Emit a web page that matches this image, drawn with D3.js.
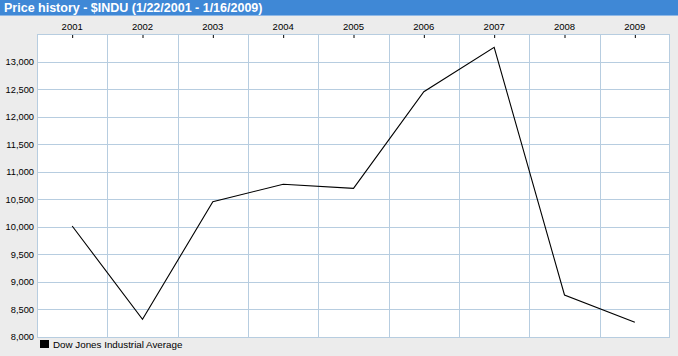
<!DOCTYPE html>
<html><head><meta charset="utf-8">
<script src="https://cdn.jsdelivr.net/npm/d3@7"></script>
<style>
html,body{margin:0;padding:0;background:#ececec;}
svg{display:block;}
</style></head>
<body>
<svg id="chart" width="678" height="356"></svg>
<script>
const title = "Price history - $INDU (1/22/2001 - 1/16/2009)";
const years = ["2001","2002","2003","2004","2005","2006","2007","2008","2009"];
const values = [10015, 8321, 10456, 10772, 10699, 12453, 13258, 8762, 8267];
const yTicks = [8000, 8500, 9000, 9500, 10000, 10500, 11000, 11500, 12000, 12500, 13000];
const seriesName = "Dow Jones Industrial Average";

const W = 678, H = 356;
const m = {left: 37, right: 670, top: 34, bottom: 337};
const font = "Liberation Sans, Arial, sans-serif";
const svg = d3.select("#chart");

svg.append("rect").attr("width", W).attr("height", H).attr("fill", "#ececec");
// title bar
svg.append("rect").attr("x",0).attr("y",0).attr("width",W).attr("height",15).attr("fill","#3f88d6");
svg.append("rect").attr("x",0).attr("y",15).attr("width",W).attr("height",1).attr("fill","#8fb8e6");
svg.append("text").attr("x",4).attr("y",12).attr("fill","#fff")
  .attr("font-family", font).attr("font-weight","bold").attr("font-size",12.5)
  .text(title);

const x = d3.scaleBand().domain(years).range([m.left, m.right]);
const y = d3.scaleLinear().domain([8000, 13500]).range([m.bottom, m.top]);

// plot background
svg.append("rect").attr("x", m.left).attr("y", m.top)
  .attr("width", m.right - m.left).attr("height", m.bottom - m.top).attr("fill", "#fff");

const grid = "#b7cde0";
// horizontal gridlines
svg.append("g").selectAll("line").data(yTicks).join("line")
  .attr("x1", m.left).attr("x2", m.right)
  .attr("y1", d => Math.round(y(d)) + 0.5).attr("y2", d => Math.round(y(d)) + 0.5)
  .attr("stroke", grid).attr("stroke-width", 1);
// vertical gridlines at band boundaries
svg.append("g").selectAll("line").data(years.slice(1)).join("line")
  .attr("x1", d => Math.round(x(d)) + 0.5).attr("x2", d => Math.round(x(d)) + 0.5)
  .attr("y1", m.top).attr("y2", m.bottom)
  .attr("stroke", grid).attr("stroke-width", 1);
// frame
svg.append("rect").attr("x", m.left + 0.5).attr("y", m.top + 0.5)
  .attr("width", m.right - m.left - 1).attr("height", m.bottom - m.top)
  .attr("fill", "none").attr("stroke", grid);

// top axis
const xAxis = d3.axisTop(x).tickSize(0).tickPadding(0);
const gx = svg.append("g").attr("transform", `translate(0,${m.top})`).call(xAxis);
gx.select(".domain").remove();
gx.selectAll("text").attr("y", -4).attr("font-family", font).attr("font-size", 9.5).attr("fill", "#000");
gx.selectAll(".tick").append("line").attr("x1",0.5).attr("x2",0.5).attr("y1",1).attr("y2",4).attr("stroke","#000");

// left axis
const yAxis = d3.axisLeft(y).tickValues(yTicks).tickSize(0).tickPadding(3).tickFormat(d3.format(","));
const gy = svg.append("g").attr("transform", `translate(${m.left},0)`).call(yAxis);
gy.select(".domain").remove();
gy.selectAll("text").attr("font-family", font).attr("font-size", 9.3).attr("fill", "#000");

// line
const line = d3.line().x((d,i) => x(years[i]) + x.bandwidth()/2).y(d => y(d));
svg.append("path").datum(values).attr("d", line)
  .attr("fill","none").attr("stroke","#000").attr("stroke-width",1.1);

// legend
svg.append("rect").attr("x",40).attr("y",340).attr("width",9).attr("height",8).attr("fill","#000");
svg.append("text").attr("x",53).attr("y",348).attr("font-family",font).attr("font-size",9.8)
  .attr("fill","#000").text(seriesName);
</script>
</body></html>
